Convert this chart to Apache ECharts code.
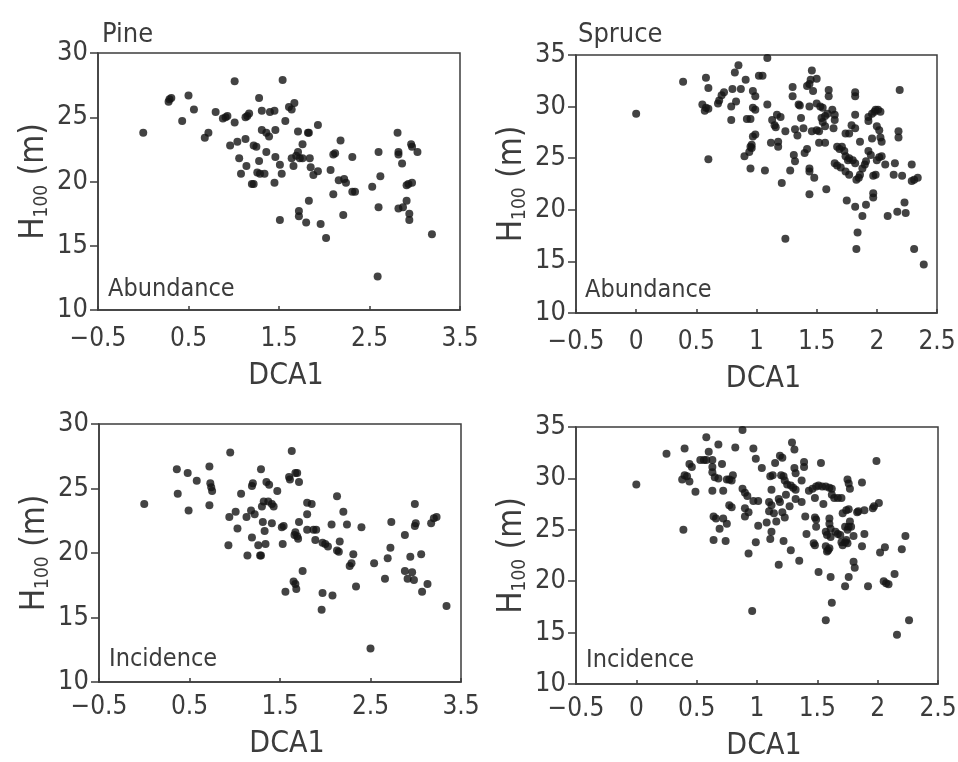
<!DOCTYPE html>
<html>
<head>
<meta charset="utf-8">
<script src="https://cdn.jsdelivr.net/npm/echarts@6/dist/echarts.min.js"></script>
<style>
  html, body { margin: 0; padding: 0; background: #fff; }
  #chart { width: 958px; height: 762px; }
</style>
</head>
<body>
<div id="chart"></div>
<script>
// Stand height (H100, m) against the first DCA axis score, pine and spruce.
const pineAbundance = [
  [0.00,23.8],[0.28,26.2],[0.29,26.4],[0.31,26.5],[0.50,26.7],[0.43,24.7],[0.56,25.6],[0.68,23.4],
  [0.72,23.8],[0.80,25.4],[0.88,24.9],[0.91,25.0],[0.93,25.1],[1.01,27.8],[1.01,24.6],[0.96,22.8],
  [1.04,23.1],[1.13,23.3],[1.06,21.8],[1.08,20.6],[1.14,21.2],[1.13,25.0],[1.15,25.1],[1.17,25.3],
  [1.20,19.8],[1.22,19.8],[1.22,22.8],[1.25,22.7],[1.28,26.5],[1.28,21.6],[1.26,20.7],[1.29,20.6],
  [1.34,20.6],[1.31,25.5],[1.31,24.0],[1.36,23.8],[1.39,23.5],[1.36,22.3],[1.40,25.4],[1.45,25.5],
  [1.46,24.0],[1.45,19.9],[1.46,21.9],[1.51,21.3],[1.53,20.6],[1.54,27.9],[1.51,17.0],[1.57,24.7],
  [1.61,25.8],[1.64,25.6],[1.67,26.1],[1.64,21.8],[1.66,21.2],[1.69,22.0],[1.71,22.3],[1.73,21.8],
  [1.76,21.8],[1.71,23.9],[1.76,22.9],[1.72,17.7],[1.72,17.3],[1.80,16.8],[1.82,23.8],[1.83,23.8],
  [1.84,21.8],[1.85,21.1],[1.88,20.5],[1.93,24.4],[1.93,20.8],[1.83,18.5],[1.96,16.7],[2.02,15.6],
  [2.07,20.9],[2.10,22.1],[2.12,22.2],[2.10,19.0],[2.18,23.2],[2.16,20.1],[2.21,17.4],[2.22,20.2],
  [2.24,19.9],[2.31,21.9],[2.31,19.2],[2.34,19.2],[2.53,19.6],[2.60,22.3],[2.62,20.4],[2.60,18.0],
  [2.59,12.6],[2.81,23.8],[2.82,22.3],[2.82,22.1],[2.86,21.4],[2.82,17.9],[2.87,18.0],[2.91,18.5],
  [2.91,19.7],[2.93,19.8],[2.97,19.9],[2.94,17.5],[2.94,17.0],[2.96,22.9],[2.97,22.7],[3.03,22.3],
  [3.19,15.9]
];

const spruceAbundance = [
  [0.00,29.3],[0.39,32.4],[0.58,32.8],[0.60,31.8],[0.55,30.2],[0.58,29.9],[0.60,29.8],[0.57,29.6],
  [0.60,24.9],[0.68,30.3],[0.69,30.6],[0.71,31.1],[0.73,31.4],[0.79,28.7],[0.79,30.0],[0.83,30.5],
  [0.80,31.7],[0.87,31.7],[0.82,33.3],[0.85,34.0],[0.91,32.6],[0.90,25.2],[0.94,25.6],[0.95,26.1],
  [0.96,26.3],[0.96,26.0],[0.95,24.0],[0.92,28.8],[0.95,28.8],[0.97,31.5],[0.99,31.0],[0.97,29.9],
  [0.99,29.7],[0.97,27.1],[0.99,27.3],[1.02,33.0],[1.05,33.0],[1.09,34.7],[1.07,23.8],[1.09,30.2],
  [1.12,26.5],[1.13,28.7],[1.15,28.2],[1.16,28.0],[1.17,29.2],[1.20,29.0],[1.18,26.6],[1.18,26.1],
  [1.21,22.6],[1.24,17.2],[1.24,27.6],[1.28,23.8],[1.30,31.9],[1.30,31.0],[1.32,27.8],[1.34,27.2],
  [1.31,25.3],[1.32,24.7],[1.35,30.2],[1.36,30.1],[1.37,28.9],[1.39,27.9],[1.42,32.0],[1.44,32.2],
  [1.45,32.6],[1.46,33.5],[1.50,32.7],[1.40,25.5],[1.42,25.9],[1.44,24.0],[1.44,23.7],[1.44,21.5],
  [1.44,30.0],[1.47,31.5],[1.48,23.1],[1.46,27.6],[1.50,27.7],[1.52,27.6],[1.50,30.3],[1.53,30.0],
  [1.55,29.9],[1.52,26.5],[1.57,26.5],[1.54,28.9],[1.55,28.5],[1.57,28.1],[1.59,29.3],[1.57,29.1],
  [1.58,22.0],[1.60,31.6],[1.60,31.0],[1.63,29.7],[1.65,29.2],[1.65,28.7],[1.64,27.9],[1.65,24.5],
  [1.67,24.3],[1.70,24.1],[1.67,26.1],[1.69,25.9],[1.71,26.1],[1.73,25.7],[1.74,25.2],[1.76,24.8],
  [1.77,25.0],[1.74,27.4],[1.77,27.4],[1.74,23.7],[1.77,23.4],[1.75,20.9],[1.79,28.2],[1.82,27.9],
  [1.80,24.8],[1.82,24.5],[1.82,31.0],[1.82,31.4],[1.82,29.2],[1.82,20.3],[1.83,22.9],[1.85,23.1],
  [1.86,23.4],[1.86,26.6],[1.88,24.0],[1.90,24.4],[1.91,24.7],[1.88,19.4],[1.84,17.8],[1.83,16.2],
  [1.91,20.5],[1.93,29.0],[1.93,28.6],[1.96,29.3],[1.98,29.5],[1.99,29.7],[1.93,25.7],[1.95,25.3],
  [1.96,26.9],[1.97,23.3],[1.99,23.4],[1.97,21.6],[1.97,21.2],[2.00,24.8],[2.02,25.1],[2.04,25.2],
  [2.00,28.1],[2.02,27.7],[2.03,27.0],[2.04,26.6],[2.01,29.7],[2.03,29.5],[2.07,24.4],[2.09,19.4],
  [2.15,24.5],[2.14,23.4],[2.18,27.6],[2.18,27.0],[2.19,31.6],[2.17,19.8],[2.21,23.3],[2.23,20.7],
  [2.24,19.7],[2.29,24.4],[2.29,22.8],[2.31,22.9],[2.34,23.1],[2.31,16.2],[2.39,14.7]
];

const pineIncidence = [
  [0.00,23.8],[0.36,26.5],[0.37,24.6],[0.48,26.2],[0.49,23.3],[0.58,25.6],[0.72,26.7],[0.72,23.7],
  [0.73,25.4],[0.74,25.1],[0.75,24.8],[0.95,27.8],[0.94,22.8],[0.93,20.6],[1.01,23.2],[1.03,21.9],
  [1.07,24.6],[1.13,22.8],[1.14,19.8],[1.18,23.3],[1.19,21.2],[1.19,25.2],[1.20,25.4],[1.22,23.0],
  [1.26,20.6],[1.28,19.8],[1.29,19.8],[1.29,26.5],[1.30,23.6],[1.31,22.4],[1.32,24.0],[1.33,21.7],
  [1.34,20.7],[1.35,25.5],[1.38,25.3],[1.37,24.0],[1.41,23.8],[1.43,23.6],[1.41,22.3],[1.47,24.8],
  [1.52,22.0],[1.54,22.1],[1.53,20.7],[1.56,17.0],[1.63,27.9],[1.60,25.9],[1.61,25.7],[1.67,26.2],
  [1.69,26.2],[1.71,25.5],[1.65,17.8],[1.67,17.6],[1.68,17.2],[1.66,21.4],[1.67,21.6],[1.69,21.3],
  [1.70,21.1],[1.71,22.4],[1.75,18.6],[1.80,23.0],[1.80,23.9],[1.85,23.8],[1.80,21.8],[1.87,21.8],
  [1.90,21.8],[1.89,21.0],[1.97,20.8],[2.00,20.7],[2.03,20.5],[1.96,15.6],[1.97,16.9],[2.08,16.7],
  [2.07,22.2],[2.13,24.4],[2.13,20.2],[2.15,20.1],[2.16,20.9],[2.20,23.2],[2.24,22.2],[2.27,19.0],
  [2.29,19.2],[2.31,19.9],[2.34,17.4],[2.40,22.0],[2.50,12.6],[2.54,19.2],[2.66,18.0],[2.69,19.6],
  [2.72,20.4],[2.73,22.4],[2.88,21.4],[2.88,18.6],[2.91,18.0],[2.96,18.5],[2.98,17.9],[2.94,19.7],
  [2.99,23.8],[2.99,22.1],[3.00,22.3],[3.06,19.9],[3.07,17.0],[3.13,17.6],[3.17,22.3],[3.20,22.7],
  [3.23,22.8],[3.34,15.9]
];

const spruceIncidence = [
  [0.00,29.4],[0.25,32.4],[0.40,32.9],[0.38,29.9],[0.40,30.3],[0.42,30.2],[0.44,31.4],[0.46,31.1],
  [0.44,29.7],[0.49,28.7],[0.39,25.0],[0.53,31.8],[0.56,31.8],[0.58,31.8],[0.58,34.0],[0.60,32.6],
  [0.63,31.8],[0.63,31.1],[0.63,30.6],[0.65,30.1],[0.63,28.8],[0.64,24.0],[0.64,26.3],[0.66,26.1],
  [0.68,33.3],[0.68,30.0],[0.69,25.1],[0.71,31.4],[0.72,28.8],[0.72,26.1],[0.75,25.6],[0.74,23.9],
  [0.75,29.9],[0.77,29.9],[0.79,29.8],[0.80,30.3],[0.77,27.4],[0.79,27.2],[0.82,33.0],[0.88,34.7],
  [0.88,29.0],[0.90,28.6],[0.92,28.3],[0.90,27.1],[0.93,26.7],[0.90,26.3],[0.93,22.7],[0.96,17.1],
  [0.97,32.9],[0.99,31.9],[0.99,23.8],[1.01,25.4],[0.97,27.8],[1.01,27.8],[1.04,31.0],[1.08,25.7],
  [1.10,26.8],[1.10,27.7],[1.12,27.4],[1.11,24.1],[1.12,24.8],[1.11,30.2],[1.13,30.3],[1.12,28.9],
  [1.14,26.6],[1.16,25.8],[1.15,31.5],[1.18,28.0],[1.19,27.7],[1.18,21.6],[1.19,32.2],[1.21,32.0],
  [1.20,30.3],[1.22,30.2],[1.23,29.8],[1.21,26.7],[1.23,26.2],[1.22,23.9],[1.24,28.4],[1.25,29.4],
  [1.28,29.3],[1.30,29.1],[1.32,28.9],[1.27,27.3],[1.28,23.0],[1.29,33.5],[1.31,32.8],[1.31,31.0],
  [1.32,30.5],[1.32,28.0],[1.37,29.8],[1.37,27.7],[1.35,22.0],[1.39,31.6],[1.39,31.1],[1.40,26.3],
  [1.41,24.6],[1.43,28.8],[1.46,29.0],[1.49,29.2],[1.51,29.3],[1.54,29.2],[1.57,29.2],[1.60,29.1],
  [1.62,29.0],[1.48,28.1],[1.48,26.2],[1.49,26.0],[1.47,23.7],[1.48,23.5],[1.49,25.3],[1.53,31.5],
  [1.51,20.9],[1.55,27.5],[1.57,24.8],[1.58,24.5],[1.57,23.4],[1.58,22.9],[1.59,23.0],[1.60,23.2],
  [1.57,16.2],[1.60,26.1],[1.60,25.6],[1.61,25.1],[1.61,24.3],[1.61,20.4],[1.62,17.9],[1.62,28.4],
  [1.64,28.1],[1.67,28.1],[1.70,28.1],[1.65,24.8],[1.67,24.6],[1.69,24.5],[1.70,23.8],[1.71,23.5],
  [1.71,26.6],[1.73,19.5],[1.73,25.3],[1.75,25.0],[1.76,25.3],[1.74,26.9],[1.76,27.0],[1.74,24.0],
  [1.75,23.7],[1.73,23.8],[1.75,29.9],[1.76,29.5],[1.77,29.0],[1.76,20.4],[1.77,25.8],[1.78,25.3],
  [1.80,24.4],[1.80,21.9],[1.81,21.3],[1.83,26.7],[1.84,26.8],[1.87,29.6],[1.87,23.4],[1.89,26.9],
  [1.89,24.6],[1.92,19.5],[1.96,27.1],[1.97,27.3],[1.99,31.7],[2.01,27.6],[2.02,22.8],[2.05,20.0],
  [2.07,19.8],[2.09,19.7],[2.06,23.3],[2.14,20.7],[2.16,14.8],[2.20,23.1],[2.23,24.4],[2.26,16.2]
];

// Axis extents and tick steps for each species
const pineXTicks = { min: -0.5, max: 3.5, interval: 1 };
const spruceXTicks = { min: -0.5, max: 2.5, interval: 0.5 };
const pineYTicks = { min: 10, max: 30, interval: 5 };
const spruceYTicks = { min: 10, max: 35, interval: 5 };

const panelTitles = ['Pine', 'Spruce'];
const panelNotes = ['Abundance', 'Abundance', 'Incidence', 'Incidence'];

const FONT = "'Liberation Sans Narrow', 'DejaVu Sans Condensed', Roboto, sans-serif";
const INK = '#3c3c3c';
const DOT = '#141414';

const grids = [
  { left: 98,  top: 53,  width: 362, height: 257 },
  { left: 576, top: 55,  width: 361, height: 258 },
  { left: 99,  top: 424, width: 362, height: 258 },
  { left: 576, top: 427, width: 362, height: 257 }
];

const panels = [
  { data: pineAbundance,   x: pineXTicks,   y: pineYTicks },
  { data: spruceAbundance, x: spruceXTicks, y: spruceYTicks },
  { data: pineIncidence,   x: pineXTicks,   y: pineYTicks },
  { data: spruceIncidence, x: spruceXTicks, y: spruceYTicks }
];

const fmt = v => String(v).replace('-', '\u2212');

const chart = echarts.init(document.getElementById('chart'), null, { renderer: 'canvas' });

chart.setOption({
  backgroundColor: '#ffffff',
  animation: false,
  title: [
    { text: panelTitles[0], left: 102, top: 21 },
    { text: panelTitles[1], left: 578, top: 21 },
    { text: panelNotes[0], left: 108, top: 277 },
    { text: panelNotes[1], left: 585, top: 278 },
    { text: panelNotes[2], left: 109, top: 647 },
    { text: panelNotes[3], left: 586, top: 648 }
  ].map((t, i) => Object.assign(t, {
    padding: 0,
    textStyle: { fontFamily: FONT, fontWeight: 'normal', color: INK, fontSize: i < 2 ? 27 : 25 }
  })),
  grid: grids.map(g => Object.assign({
    show: true, borderColor: INK, borderWidth: 1.5, containLabel: false, outerBoundsMode: 'none'
  }, g)),
  xAxis: panels.map((p, i) => ({
    type: 'value',
    gridIndex: i,
    min: p.x.min, max: p.x.max, interval: p.x.interval,
    name: 'DCA1',
    nameLocation: 'middle',
    nameGap: i < 2 ? 51 : 47,
    nameTextStyle: { fontFamily: FONT, fontSize: 30, color: INK, padding: [0, 0, 0, 14] },
    axisLine: { show: true, onZero: false, lineStyle: { color: INK, width: 1.5 } },
    axisTick: { show: true, inside: true, length: 4, lineStyle: { color: INK, width: 1.5 } },
    axisLabel: { fontFamily: FONT, fontSize: 26, color: INK, margin: i < 2 ? 16 : 12, formatter: fmt },
    splitLine: { show: false }
  })),
  yAxis: panels.map((p, i) => ({
    type: 'value',
    gridIndex: i,
    min: p.y.min, max: p.y.max, interval: p.y.interval,
    name: '{h|H}{s|100}{h| (m)}',
    nameLocation: 'middle',
    nameRotate: 90,
    nameGap: 46,
    nameTextStyle: {
      color: INK,
      rich: {
        h: { fontFamily: FONT, fontSize: 33, color: INK, lineHeight: 36 },
        s: { fontFamily: FONT, fontSize: 19, color: INK, lineHeight: 36, verticalAlign: 'bottom' }
      }
    },
    axisLine: { show: true, onZero: false, lineStyle: { color: INK, width: 1.5 } },
    axisTick: { show: true, inside: false, length: 8, lineStyle: { color: INK, width: 1.5 } },
    axisLabel: { fontFamily: FONT, fontSize: 27, color: INK, margin: 10, formatter: fmt },
    splitLine: { show: false }
  })),
  series: panels.map((p, i) => ({
    type: 'scatter',
    xAxisIndex: i,
    yAxisIndex: i,
    data: p.data,
    symbol: 'circle',
    symbolSize: 8,
    itemStyle: { color: DOT },
    clip: false
  }))
});
</script>
</body>
</html>
